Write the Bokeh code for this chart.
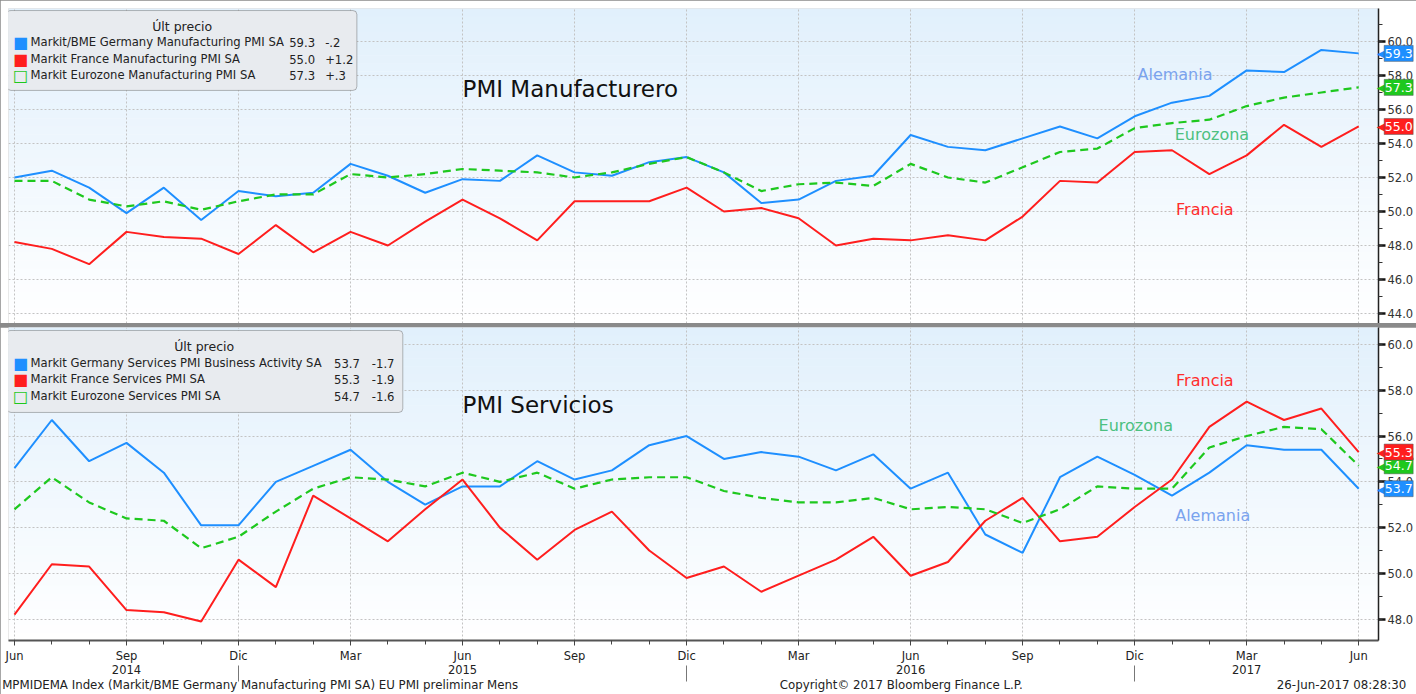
import numpy as np
from bokeh.plotting import figure
from bokeh.models import (Range1d, FixedTicker, SingleIntervalTicker, Label, LinearAxis,
                          BoxAnnotation, PrintfTickFormatter)
from bokeh.core.properties import value
from bokeh.layouts import column
from bokeh.embed import file_html
from bokeh.resources import INLINE

# ---------------- data ----------------
months = ["Jun 2014", "Jul 2014", "Ago 2014", "Sep 2014", "Oct 2014", "Nov 2014", "Dic 2014",
          "Ene 2015", "Feb 2015", "Mar 2015", "Abr 2015", "May 2015", "Jun 2015", "Jul 2015",
          "Ago 2015", "Sep 2015", "Oct 2015", "Nov 2015", "Dic 2015", "Ene 2016", "Feb 2016",
          "Mar 2016", "Abr 2016", "May 2016", "Jun 2016", "Jul 2016", "Ago 2016", "Sep 2016",
          "Oct 2016", "Nov 2016", "Dic 2016", "Ene 2017", "Feb 2017", "Mar 2017", "Abr 2017",
          "May 2017", "Jun 2017"]
quarter_labels = ["Jun", "Sep", "Dic", "Mar", "Jun", "Sep", "Dic", "Mar", "Jun", "Sep", "Dic", "Mar", "Jun"]
year_labels = ["2014", "2015", "2016", "2017"]

de_mfg = [52.0, 52.4, 51.4, 49.9, 51.4, 49.5, 51.2, 50.9, 51.1, 52.8, 52.1, 51.1, 51.9, 51.8,
          53.3, 52.3, 52.1, 52.9, 53.2, 52.3, 50.5, 50.7, 51.8, 52.1, 54.5, 53.8, 53.6, 54.3,
          55.0, 54.3, 55.6, 56.4, 56.8, 58.3, 58.2, 59.5, 59.3]
fr_mfg = [48.2, 47.8, 46.9, 48.8, 48.5, 48.4, 47.5, 49.2, 47.6, 48.8, 48.0, 49.4, 50.7, 49.6,
          48.3, 50.6, 50.6, 50.6, 51.4, 50.0, 50.2, 49.6, 48.0, 48.4, 48.3, 48.6, 48.3, 49.7,
          51.8, 51.7, 53.5, 53.6, 52.2, 53.3, 55.1, 53.8, 55.0]
ez_mfg = [51.8, 51.8, 50.7, 50.3, 50.6, 50.1, 50.6, 51.0, 51.0, 52.2, 52.0, 52.2, 52.5, 52.4,
          52.3, 52.0, 52.3, 52.8, 53.2, 52.3, 51.2, 51.6, 51.7, 51.5, 52.8, 52.0, 51.7, 52.6,
          53.5, 53.7, 54.9, 55.2, 55.4, 56.2, 56.7, 57.0, 57.3]

de_srv = [54.6, 56.7, 54.9, 55.7, 54.4, 52.1, 52.1, 54.0, 54.7, 55.4, 54.0, 53.0, 53.8, 53.8,
          54.9, 54.1, 54.5, 55.6, 56.0, 55.0, 55.3, 55.1, 54.5, 55.2, 53.7, 54.4, 51.7, 50.9,
          54.2, 55.1, 54.3, 53.4, 54.4, 55.6, 55.4, 55.4, 53.7]
fr_srv = [48.2, 50.4, 50.3, 48.4, 48.3, 47.9, 50.6, 49.4, 53.4, 52.4, 51.4, 52.8, 54.1, 52.0,
          50.6, 51.9, 52.7, 51.0, 49.8, 50.3, 49.2, 49.9, 50.6, 51.6, 49.9, 50.5, 52.3, 53.3,
          51.4, 51.6, 52.9, 54.1, 56.4, 57.5, 56.7, 57.2, 55.3]
ez_srv = [52.8, 54.2, 53.1, 52.4, 52.3, 51.1, 51.6, 52.7, 53.7, 54.2, 54.1, 53.8, 54.4, 54.0,
          54.4, 53.7, 54.1, 54.2, 54.2, 53.6, 53.3, 53.1, 53.1, 53.3, 52.8, 52.9, 52.8, 52.2,
          52.8, 53.8, 53.7, 53.7, 55.5, 56.0, 56.4, 56.3, 54.7]

names_mfg = ["Markit/BME Germany Manufacturing PMI SA", "Markit France Manufacturing PMI SA",
             "Markit Eurozone Manufacturing PMI SA"]
names_srv = ["Markit Germany Services PMI Business Activity SA", "Markit France Services PMI SA",
             "Markit Eurozone Services PMI SA"]
country_names = ["Alemania", "Francia", "Eurozona"]
footer_texts = ["MPMIDEMA Index (Markit/BME Germany Manufacturing PMI SA) EU PMI preliminar  Mens",
                "Copyright\u00a9 2017 Bloomberg Finance L.P.",
                "26-Jun-2017 08:28:30"]

# ---------------- styles ----------------
FONT = "DejaVu Sans"
C_DE, C_FR, C_EZ = "#1e8fff", "#ff1e1e", "#1ec81e"
C_DE_T, C_FR_T, C_EZ_T = "#7aa3ee", "#ff2d2d", "#4cc080"
GRID = "#c3c3c3"
LEG_FS = "11.6px"

x = np.arange(len(months))
xr = Range1d(-0.16, len(months) - 1 + 0.53)
quarter_ticks = list(range(0, len(months), 3))


def fmt_chg(v):
    s = f"{v:+.1f}"
    return s.replace("+0.", "+.").replace("-0.", "-.")


def make_panel(height, ylo, yhi, below, min_top, min_bottom):
    p = figure(width=1416, height=height, x_range=xr, y_range=Range1d(ylo, yhi),
               x_axis_location="below" if below else None, y_axis_location="right",
               output_backend="svg", toolbar_location=None,
               min_border_left=8, min_border_right=36, min_border_top=min_top,
               min_border_bottom=min_bottom)
    p.outline_line_color = None
    p.background_fill_color = "white"
    p.border_fill_color = "white"
    # gradient background
    n = 40
    top_c = np.array([0xe1, 0xf0, 0xfc])
    bot_c = np.array([0xff, 0xff, 0xff])
    for i in range(n):
        f = (i + 0.5) / n
        c = bot_c + (top_c - bot_c) * f
        col = "#%02x%02x%02x" % tuple(int(round(v)) for v in c)
        p.add_layout(BoxAnnotation(bottom=ylo + (yhi - ylo) * i / n,
                                   top=ylo + (yhi - ylo) * (i + 1) / n + 0.02,
                                   fill_color=col, fill_alpha=1.0, line_alpha=0,
                                   level="image"))
    p.xgrid.ticker = FixedTicker(ticks=quarter_ticks)
    p.ygrid.ticker = SingleIntervalTicker(interval=2)
    for g in (p.xgrid, p.ygrid):
        g.grid_line_color = GRID
        g.grid_line_dash = "2 2"
        g.grid_line_width = 1
        g.level = "underlay"
    ax = p.yaxis[0]
    ax.ticker = SingleIntervalTicker(interval=2, num_minor_ticks=2)
    ax.formatter = PrintfTickFormatter(format="%.1f")
    ax.axis_line_color = "#222222"
    ax.axis_line_width = 1.5
    ax.major_tick_out = 7
    ax.major_tick_in = 0
    ax.major_tick_line_width = 2.5
    ax.major_tick_line_color = "#111111"
    ax.minor_tick_out = 4
    ax.minor_tick_in = 0
    ax.minor_tick_line_color = "#333333"
    ax.major_label_text_font = FONT
    ax.major_label_text_font_size = "11.5px"
    ax.major_label_text_color = "#333333"
    ax.major_label_standoff = 2
    return p


# ---------------- top panel ----------------
top = make_panel(323, 43.41, 61.94, False, 8, 0)
top.line(x, de_mfg, line_color=C_DE, line_width=2)
top.line(x, fr_mfg, line_color=C_FR, line_width=2)
top.line(x, ez_mfg, line_color=C_EZ, line_width=2.2, line_dash="8 5")

# ---------------- bottom panel ----------------
bot = make_panel(367, 47.07, 60.74, True, 0, 0)
bot.line(x, de_srv, line_color=C_DE, line_width=2)
bot.line(x, fr_srv, line_color=C_FR, line_width=2)
bot.line(x, ez_srv, line_color=C_EZ, line_width=2.2, line_dash="8 5")

xa = bot.xaxis[0]
xa.ticker = FixedTicker(ticks=quarter_ticks, minor_ticks=list(range(len(months))))
xa.major_label_overrides = {t: lab for t, lab in zip(quarter_ticks, quarter_labels)}
xa.axis_line_color = "#555555"
xa.axis_line_width = 2
xa.major_tick_out = 5
xa.major_tick_in = 0
xa.minor_tick_out = 4
xa.minor_tick_in = 0
xa.major_tick_line_color = "#444444"
xa.minor_tick_line_color = "#444444"
xa.major_label_text_font = FONT
xa.major_label_text_font_size = "11.5px"
xa.major_label_text_color = "#222222"
xa.major_label_standoff = 3

# year row: labels under the year, separators at the year change
year_pos = [3, 12, 24, 33]
year_axis = LinearAxis(ticker=FixedTicker(ticks=year_pos, minor_ticks=[6, 18, 30]),
                       major_label_overrides={t: l for t, l in zip(year_pos, year_labels)},
                       axis_line_color=None, major_tick_out=0, major_tick_in=0,
                       minor_tick_out=16, minor_tick_in=0, minor_tick_line_color="#777777",
                       major_label_standoff=-17, major_label_text_font=FONT,
                       major_label_text_font_size="11.5px", major_label_text_color="#222222")
bot.add_layout(year_axis, "below")

# footer row
footer_pos = [6.63, 23.75, 35.54]
footer_axis = LinearAxis(ticker=FixedTicker(ticks=footer_pos, minor_ticks=[]),
                         major_label_overrides={t: l for t, l in zip(footer_pos, footer_texts)},
                         axis_line_color=None, major_tick_out=0, major_tick_in=0,
                         minor_tick_out=0, major_label_standoff=1, major_label_text_font=FONT,
                         major_label_text_font_size="11.8px", major_label_text_color="#222222")
bot.add_layout(footer_axis, "below")


# ---------------- legends ----------------
def legend_box(p, left, right, top_, bottom_, title_xy, rows_y, names, series, x_val, x_chg):
    p.add_layout(BoxAnnotation(left=left, right=right, top=top_, bottom=bottom_,
                               fill_color="#e8ebef", fill_alpha=1.0, line_color="#222222",
                               line_width=1, border_radius=4, level="annotation"))
    p.add_layout(Label(x=title_xy[0], y=title_xy[1], text="\u00dalt precio", text_align="center",
                       text_baseline="middle", text_font=FONT, text_font_size="12.5px",
                       text_color="#222222"))
    swatches = [("\u25a0", C_DE), ("\u25a0", C_FR), ("\u25a1", C_EZ)]
    for (sym, col), ry, nm, s in zip(swatches, rows_y, names, series):
        p.add_layout(Label(x=0.16, y=ry, text=sym, text_align="center", text_baseline="middle",
                           text_font=FONT, text_font_size="16px", text_color=col))
        p.add_layout(Label(x=0.43, y=ry, text=nm, text_align="left", text_baseline="middle",
                           text_font=FONT, text_font_size=LEG_FS, text_color="#222222"))
        p.add_layout(Label(x=x_val, y=ry, text=f"{s[-1]:.1f}", text_align="right",
                           text_baseline="middle", text_font=FONT, text_font_size=LEG_FS,
                           text_color="#222222"))
        p.add_layout(Label(x=x_chg, y=ry, text=fmt_chg(s[-1] - s[-2]), text_align="left",
                           text_baseline="middle", text_font=FONT, text_font_size=LEG_FS,
                           text_color="#222222"))


legend_box(top, -0.2, 9.17, 61.82, 57.12, (4.49, 60.88), [59.94, 58.94, 58.0],
           names_mfg, [de_mfg, fr_mfg, ez_mfg], 8.05, 8.32)
legend_box(bot, -0.2, 10.4, 60.61, 57.03, (5.08, 59.91), [59.17, 58.47, 57.73],
           names_srv, [de_srv, fr_srv, ez_srv], 9.25, 9.57)

# ---------------- panel titles and series names ----------------
top.add_layout(Label(x=12.0, y=57.18, text="PMI Manufacturero", text_align="left",
                     text_baseline="middle", text_font=FONT, text_font_size="23px",
                     text_color="#111111"))
bot.add_layout(Label(x=12.0, y=57.34, text="PMI Servicios", text_align="left",
                     text_baseline="middle", text_font=FONT, text_font_size="23px",
                     text_color="#111111"))

for p, pos in [(top, [(31.08, 58.06), (31.88, 50.12), (32.07, 54.53)]),
               (bot, [(32.09, 52.53), (31.88, 58.43), (30.03, 56.46)])]:
    for (lx, ly), nm, col in zip(pos, country_names, [C_DE_T, C_FR_T, C_EZ_T]):
        p.add_layout(Label(x=lx, y=ly, text=nm, text_align="center", text_baseline="middle",
                           text_font=FONT, text_font_size="16px", text_color=col))

# ---------------- last-value tags (drawn over the right axis) ----------------
TAG_X = 37.07     # centre of the tag body, just right of the axis line
ARROW_X = 36.66   # arrow tip next to the axis line
for p, series, cols in [(top, [de_mfg, ez_mfg, fr_mfg], [C_DE, C_EZ, C_FR]),
                        (bot, [de_srv, ez_srv, fr_srv], [C_DE, C_EZ, C_FR])]:
    last = [s[-1] for s in series]
    p.text(x=[ARROW_X] * 3, y=last, text=["\u25c0"] * 3, text_color=cols, text_align="center",
           text_baseline="middle", text_font=value(FONT), text_font_size="17px", level="overlay")
    p.rect(x=[TAG_X] * 3, y=last, width=29, height=16, width_units="screen",
           height_units="screen", fill_color=cols, line_color="#555555", line_width=0.5,
           level="overlay")
    p.text(x=[TAG_X] * 3, y=last, text=[f"{v:.1f}" for v in last], text_color="white",
           text_align="center", text_baseline="middle", text_font=value(FONT),
           text_font_size="12.5px", level="overlay")

layout = column(top, bot, spacing=4, styles={"background-color": "#8a8a8a"})
open("out.html", "w").write(file_html(layout, INLINE))
